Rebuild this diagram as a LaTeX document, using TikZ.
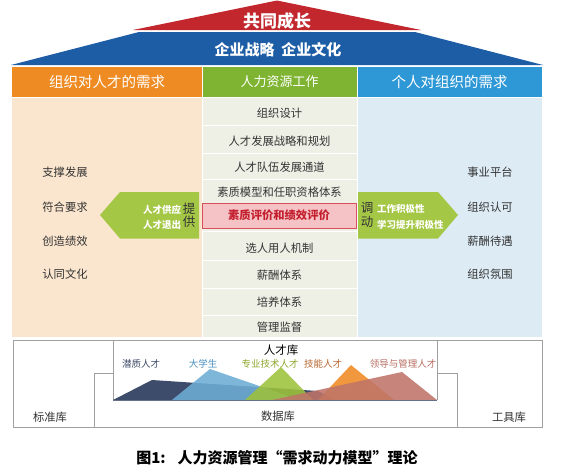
\documentclass[tikz,border=0pt]{standalone}
\usepackage{fontspec}
\setmainfont{Noto Sans CJK SC}
\newcommand\myfs[1]{\fontsize{#1}{#1}\selectfont}
\definecolor{roofblue}{HTML}{1D5DA6}
\definecolor{roofred}{HTML}{C1272D}
\definecolor{hdorange}{HTML}{EE8B22}
\definecolor{hdgreen}{HTML}{7EB431}
\definecolor{hdblue}{HTML}{2E98D6}
\definecolor{bdbeige}{HTML}{FAE5CE}
\definecolor{bdgray}{HTML}{EEEFE5}
\definecolor{bdblue}{HTML}{DDEBF4}
\definecolor{txtgray}{HTML}{333333}
\definecolor{arrgreen}{HTML}{A5C746}
\definecolor{boxpink}{HTML}{F5C2C5}
\definecolor{boxred}{HTML}{D6505A}
\definecolor{redtxt}{HTML}{C41F2E}
\definecolor{framegray}{HTML}{A0A0A0}
\definecolor{mnavy}{HTML}{3E4C6C}
\definecolor{mblue}{HTML}{6DADD5}
\definecolor{mgreen}{HTML}{9DC23B}
\definecolor{morange}{HTML}{F08A24}
\definecolor{mrose}{HTML}{BF7468}
\definecolor{lnavy}{HTML}{3E4B68}
\definecolor{lblue}{HTML}{4A8FBF}
\definecolor{lgreen}{HTML}{8DA62A}
\definecolor{lorange}{HTML}{B8652F}
\definecolor{lrose}{HTML}{B86E62}
\tikzset{
  txt/.style={font=\myfs{11.3}, text=txtgray, inner sep=0pt},
  hdr/.style={font=\myfs{14.5}, text=white, inner sep=0pt},
  wt/.style={font=\bfseries\myfs{9.5}, text=white, inner sep=0pt},
  mlab/.style={font=\myfs{9.5}, inner sep=0pt},
  sep/.style={white, line width=1pt},
  frm/.style={framegray, line width=0.8pt},
  mtn/.style={fill opacity=0.88}
}
\begin{document}
\begin{tikzpicture}[x=1pt,y=-1pt]
\useasboundingbox (0,0) rectangle (565,466);
\fill[white] (0,0) rectangle (565,466);
% roof
\fill[roofblue] (11,65) -- (139,32) -- (415,32) -- (543,65) -- cycle;
\fill[roofred] (133,30) -- (277,0.5) -- (421,30) -- cycle;
\node[font=\bfseries\myfs{17}, text=white, inner sep=0pt] (grow) at (277,21) {共同成长};
\node[font=\bfseries\myfs{15}, text=white, inner sep=0pt] (strat) at (278,50) {企业战略\hspace{0.45em}企业文化};
% headers
\fill[hdorange] (12,67) rectangle (201.5,97);
\fill[hdgreen] (202.5,67) rectangle (356.5,97);
\fill[hdblue] (357.5,67) rectangle (542,97);
\node[hdr] (h1) at (107,82) {组织对人才的需求};
\node[hdr, font=\myfs{13}] (h2) at (279.5,82) {人力资源工作};
\node[hdr] (h3) at (449.5,82) {个人对组织的需求};
% bodies
\fill[bdbeige] (12,98) rectangle (201.5,337);
\fill[bdgray] (202.5,98) rectangle (356.5,337);
\fill[bdblue] (357.5,98) rectangle (542,337);
\foreach \yy in {125,153,179,231,260,288,315}
  \draw[sep] (202.5,\yy) -- (356.5,\yy);
% left texts
\node[txt] (l1) at (65,172) {支撑发展};
\node[txt] (l2) at (65,207) {符合要求};
\node[txt] (l3) at (65,241) {创造绩效};
\node[txt] (l4) at (65,274) {认同文化};
% right texts
\node[txt] (q1) at (490,172) {事业平台};
\node[txt] (q2) at (490,207) {组织认可};
\node[txt] (q3) at (490,241) {薪酬待遇};
\node[txt] (q4) at (490,274) {组织氛围};
% middle rows
\node[txt] (r1) at (279.5,113) {组织设计};
\node[txt] (r2) at (279.5,141) {人才发展战略和规划};
\node[txt] (r3) at (279.5,167) {人才队伍发展通道};
\node[txt] (r4) at (279.5,192) {素质模型和任职资格体系};
\node[draw=boxred, fill=boxpink, line width=0.8pt, minimum width=154pt, minimum height=25pt, inner sep=0pt,
      font=\bfseries\myfs{11.3}, text=redtxt] (r5) at (279,215.5) {素质评价和绩效评价};
\node[txt] (r6) at (279.5,248) {选人用人机制};
\node[txt] (r7) at (279.5,275) {薪酬体系};
\node[txt] (r8) at (279.5,302) {培养体系};
\node[txt] (r9) at (279.5,327) {管理监督};
% arrows
\fill[arrgreen] (199,192) -- (120,192) -- (100,215) -- (120,238.5) -- (199,238.5) -- cycle;
\fill[arrgreen] (358,192) -- (438,192) -- (458,215) -- (438,238.5) -- (358,238.5) -- cycle;
\node[wt] (s1) at (162,210) {人才供应};
\node[wt] (s2) at (162,224.5) {人才退出};
\node[txt, font=\myfs{12.5}] (p1) at (189,209) {提};
\node[txt, font=\myfs{12.5}] (p2) at (189,222) {供};
\node[txt, font=\myfs{12.5}] (d1) at (367,208) {调};
\node[txt, font=\myfs{12.5}] (d2) at (367,222) {动};
\node[wt, anchor=west] (m1) at (377,209) {工作积极性};
\node[wt, anchor=west] (m2) at (377,225) {学习提升积极性};
% bottom frame
\draw[frm] (13,340) rectangle (542,427);
\draw[frm] (94,427) -- (94,373) -- (113,373);
\draw[frm] (113,340) -- (113,400);
\draw[frm] (437,340) -- (437,400);
\draw[frm] (437,373) -- (457,373) -- (457,427);
% mountains
\fill[mnavy] (113,400) -- (152,380) -- (318,391) -- (335,400) -- cycle;
\fill[mblue, mtn] (172,400) -- (210,369) -- (300,400) -- cycle;
\fill[mgreen, mtn] (245,400) -- (281,367) -- (313,400) -- cycle;
\fill[morange, mtn] (318,400) -- (351,365) -- (394,400) -- cycle;
\fill[mrose, mtn] (272,400) -- (402,372) -- (437,400) -- cycle;
\draw[mnavy!80, line width=0.8pt] (113,400) -- (437,400);
\node[mlab, font=\myfs{11.5}, text=black] (pool) at (281,350) {人才库};
\node[mlab, text=lnavy] (k1) at (141,364) {潜质人才};
\node[mlab, text=lblue] (k2) at (203,364) {大学生};
\node[mlab, text=lgreen] (k3) at (270,364) {专业技术人才};
\node[mlab, text=lorange] (k4) at (323,364) {技能人才};
\node[mlab, text=lrose] (k5) at (403,364) {领导与管理人才};
\node[txt] (b1) at (50,417) {标准库};
\node[txt] (b2) at (278,416) {数据库};
\node[txt] (b3) at (509,417) {工具库};
% caption
\node[font=\bfseries\myfs{15}, text=black, inner sep=0pt] (cap) at (277,458) {图1:\hspace{0.8em}人力资源管理“需求动力模型”理论};
\end{tikzpicture}
\end{document}
